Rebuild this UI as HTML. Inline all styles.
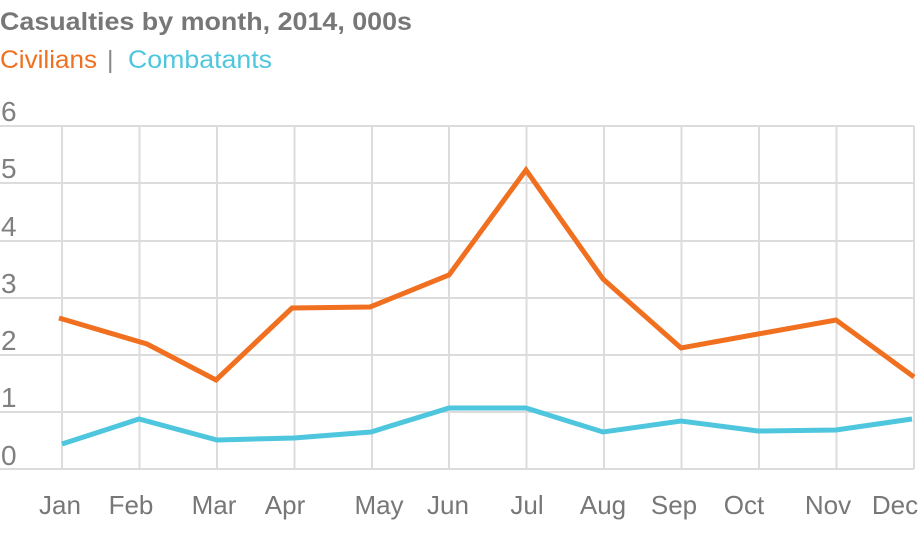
<!DOCTYPE html>
<html><head><style>
body{margin:0;background:#fff;width:920px;height:532px;overflow:hidden;font-family:"Liberation Sans",sans-serif}
</style></head><body>
<svg width="920" height="532" xmlns="http://www.w3.org/2000/svg" font-family="Liberation Sans, sans-serif">
<text x="0" y="30" font-size="25" font-weight="bold" fill="#777" textLength="412" lengthAdjust="spacingAndGlyphs">Casualties by month, 2014, 000s</text>
<text x="0" y="68" font-size="25" fill="#f07020" textLength="97" lengthAdjust="spacingAndGlyphs">Civilians</text>
<text x="107" y="68" font-size="25" fill="#888">|</text>
<text x="128" y="68" font-size="25" fill="#4ec6dd" textLength="144" lengthAdjust="spacingAndGlyphs">Combatants</text>
<g stroke="#dcdcdc" stroke-width="2" fill="none">
<line x1="0" y1="126" x2="914" y2="126"/><line x1="0" y1="183" x2="914" y2="183"/>
<line x1="0" y1="241" x2="914" y2="241"/><line x1="0" y1="298" x2="914" y2="298"/>
<line x1="0" y1="355" x2="914" y2="355"/><line x1="0" y1="412" x2="914" y2="412"/>
<line x1="0" y1="469" x2="914" y2="469"/>
<line x1="62" y1="126" x2="62" y2="469"/><line x1="139.5" y1="126" x2="139.5" y2="469"/>
<line x1="217" y1="126" x2="217" y2="469"/><line x1="294.5" y1="126" x2="294.5" y2="469"/>
<line x1="372" y1="126" x2="372" y2="469"/><line x1="449" y1="126" x2="449" y2="469"/>
<line x1="526.5" y1="126" x2="526.5" y2="469"/><line x1="604" y1="126" x2="604" y2="469"/>
<line x1="681.5" y1="126" x2="681.5" y2="469"/><line x1="759" y1="126" x2="759" y2="469"/>
<line x1="836.5" y1="126" x2="836.5" y2="469"/><line x1="914" y1="126" x2="914" y2="469"/>
</g>
<g font-size="28" fill="#808080">
<text x="1" y="121">6</text><text x="1" y="178">5</text><text x="1" y="236">4</text>
<text x="1" y="293">3</text><text x="1" y="350">2</text><text x="1" y="407">1</text><text x="1" y="465">0</text>
</g>
<g font-size="26" fill="#777" text-anchor="middle">
<text x="60" y="514">Jan</text><text x="131" y="514">Feb</text><text x="214" y="514">Mar</text>
<text x="285" y="514">Apr</text><text x="379" y="514">May</text><text x="448" y="514">Jun</text>
<text x="527" y="514">Jul</text><text x="603" y="514">Aug</text><text x="674" y="514">Sep</text>
<text x="744" y="514">Oct</text><text x="828" y="514">Nov</text><text x="895" y="514">Dec</text>
</g>
<polyline fill="none" stroke="#f07020" stroke-width="5" points="59,318 147,344 216,380 292,308 370,307 449,275 526,170 603,279 681,348 758,334 836,320 914,377"/>
<polyline fill="none" stroke="#4ec6dd" stroke-width="5" points="62,444 139,419 217,440 294,438 371,432 449,408 526,408 603,432 681,421 758,431 836,430 912,419"/>
</svg>
</body></html>
